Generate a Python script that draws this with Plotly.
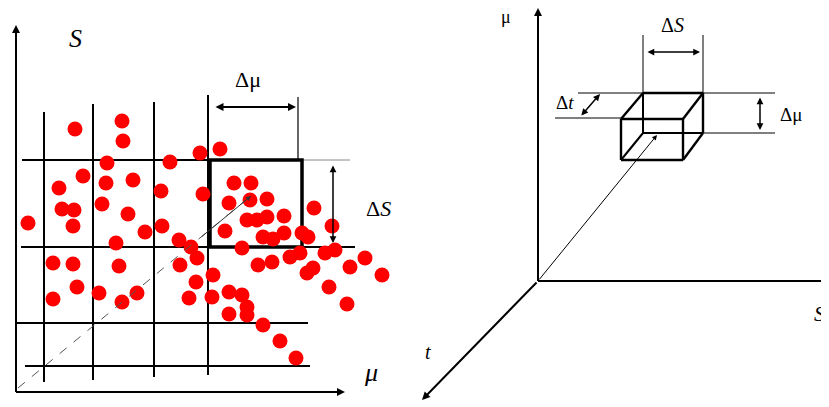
import plotly.graph_objects as go

# red sample points (pixel-space coordinates of the diagram, y grows downward)
dot_x = [75, 122, 123, 170, 200, 220, 107, 83, 59, 106, 133, 161, 203, 234, 251, 250, 229, 267,
         74, 62, 102, 128, 162, 145, 73, 28, 247, 267, 284, 257, 225, 263, 273, 284, 302, 308,
         314, 332, 179, 191, 116, 242, 197, 180, 119, 53, 73, 258, 272, 290, 300, 325, 335, 350,
         365, 382, 307, 313, 329, 347, 213, 196, 189, 212, 229, 242, 247, 229, 247, 263, 280, 296,
         77, 99, 53, 122, 137]
dot_y = [129, 121, 141, 162, 153, 149, 163, 176, 188, 183, 180, 191, 194, 183, 183, 200, 203, 199,
         210, 209, 204, 214, 226, 232, 226, 223, 220, 217, 216, 220, 231, 237, 239, 233, 233, 237,
         208, 226, 240, 247, 243, 248, 258, 265, 266, 263, 264, 265, 262, 257, 253, 253, 250, 267,
         258, 275, 273, 268, 287, 304, 275, 282, 298, 297, 292, 295, 307, 314, 315, 325, 341, 358,
         287, 293, 299, 302, 293]

# grid of the left panel: (x, y_top, y_bottom) and (y, x_left, x_right)
grid_v = [(44, 112, 382), (93, 104, 380), (154, 102, 377), (208, 95, 375)]
grid_h = [(160, 22, 300), (247, 21, 355), (323, 17, 308), (366, 25, 310)]

# box of the right panel
front = (621, 119, 683, 160)
back = (643, 93, 703, 133)

# the page puts the figure 8px in from the top-left corner
OFF = 8

fig = go.Figure()
fig.add_trace(go.Scatter(x=dot_x, y=dot_y, mode="markers",
                         marker=dict(color="#ff0000", size=15, line=dict(width=0)),
                         hoverinfo="skip", showlegend=False))

shapes = []
def line(x0, y0, x1, y1, w=2, color="black", dash=None, layer="below"):
    shapes.append(dict(type="line", x0=x0, y0=y0, x1=x1, y1=y1, xref="x", yref="y", layer=layer,
                       line=dict(color=color, width=w, dash=dash)))

for x, y0, y1 in grid_v:
    line(x, y0, x, y1)
for y, x0, x1 in grid_h:
    line(x0, y, x1, y)
# thin extension lines
line(300, 160, 350, 160, w=1, color="#888888")
line(298, 97, 298, 160, w=1.2)
# bold cell
shapes.append(dict(type="rect", x0=210, y0=160, x1=302, y1=247, xref="x", yref="y", layer="below",
                   line=dict(color="black", width=3.5)))
# left axes lines
line(16, 392, 16, 32)
line(16, 392, 340, 392)
# dashed diagonal
line(18, 388, 246, 200, w=1, color="#555555", dash="dash", layer="above")

# right panel axes
line(538, 281, 538, 15)
line(538, 281, 840, 281)
# box
line(front[0], front[1], front[2], front[1], w=2.4); line(front[0], front[3], front[2], front[3], w=2.4)
line(front[0], front[1], front[0], front[3], w=2.4); line(front[2], front[1], front[2], front[3], w=2.4)
line(back[0], back[1], back[2], back[1], w=2.4); line(back[0], back[3], back[2], back[3], w=2)
line(back[0], back[1], back[0], back[3], w=2); line(back[2], back[1], back[2], back[3], w=2.4)
line(front[0], front[1], back[0], back[1], w=2.4); line(front[2], front[1], back[2], back[1], w=2.4)
line(front[0], front[3], back[0], back[3], w=2); line(front[2], front[3], back[2], back[3], w=2.4)
# dimension lines right panel
line(643, 35, 643, 93, w=1); line(703, 35, 703, 93, w=1)
line(703, 93, 775, 93, w=1); line(703, 133, 775, 133, w=1)
line(578, 93, 643, 93, w=1); line(555, 118, 621, 118, w=1)

ann = []
def arrow(x0, y0, x1, y1, both=False, w=1.5, size=1.0, head=2, color="black"):
    ann.append(dict(x=x1, y=y1, ax=x0, ay=y0, xref="x", yref="y", axref="x", ayref="y",
                    text="", showarrow=True, arrowhead=head, startarrowhead=head,
                    arrowside="end+start" if both else "end", arrowsize=size,
                    startarrowsize=size, arrowwidth=w, arrowcolor=color))

arrow(16, 60, 16, 25, w=2, size=0.8)
arrow(300, 392, 345, 392, w=2, size=0.8)
arrow(214, 107, 296, 107, both=True, w=2, size=0.8)
arrow(333, 164, 333, 243, both=True, w=1.5, size=0.9)
arrow(200, 238, 251, 196, w=1, size=1, color="#333333")
arrow(538, 60, 538, 8, w=2, size=0.8)
arrow(538, 281, 422, 400, w=2, size=0.8)
arrow(538, 281, 657, 135, w=1, size=1)
arrow(646, 52, 700, 52, both=True, w=1.5, size=0.9)
arrow(760, 96, 760, 130, both=True, w=1.5, size=0.9)
arrow(580, 117, 600, 94, both=True, w=1.5, size=0.9)

serif = "Liberation Serif, Times New Roman, serif"
def label(x, y, text, size=22):
    ann.append(dict(x=x, y=y, xref="x", yref="y", text=text, showarrow=False,
                    font=dict(family=serif, size=size, color="black")))

label(75, 38, "<i>S</i>", 26)
label(248, 79, "Δμ", 22)
label(378, 208, "Δ<i>S</i>", 22)
label(371, 372, "<i>μ</i>", 26)
label(506, 17, "μ", 18)
label(672, 25, "Δ<i>S</i>", 20)
label(791, 114, "Δμ", 19)
label(565, 102, "Δ<i>t</i>", 19)
label(819, 313, "<i>S</i>", 22)
label(428, 352, "<i>t</i>", 20)

fig.update_layout(width=829, height=407, margin=dict(l=0, r=0, t=0, b=0),
                  paper_bgcolor="white", plot_bgcolor="white", shapes=shapes, annotations=ann,
                  xaxis=dict(range=[OFF, 829 + OFF], visible=False, fixedrange=True),
                  yaxis=dict(range=[407 + OFF, OFF], visible=False, fixedrange=True))
fig.write_html("out.html")
